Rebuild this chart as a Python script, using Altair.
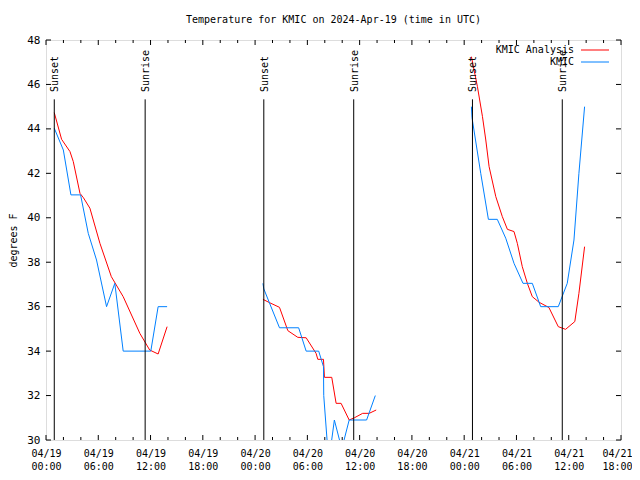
import altair as alt
import pandas as pd

# ---- data (hours after 2024-04-19 00:00 UTC, degrees F) ----
ana_seg = [1]*14 + [2]*18 + [3]*20
ana_hours = [0.95, 1.79, 2.75, 3.13, 3.9, 4.3, 5.04, 6.19, 7.5, 8.86, 10.77, 11.9, 12.87, 13.9,
             24.9, 25.66, 26.8, 27.76, 28.9, 29.86, 31.0, 31.2, 31.85, 31.96, 32.8, 33.3, 33.87, 34.8, 35.4, 36.35, 37.1, 37.9,
             48.83, 49.52, 50.1, 50.48, 50.86, 51.63, 52.38, 52.96, 53.72, 54.1, 54.67, 55.25, 55.82, 56.59, 57.73, 58.8,
             59.64, 60.7, 61.17, 61.82]
ana_temps = [44.73, 43.53, 42.98, 42.53, 41.1, 40.9, 40.43, 38.85, 37.35, 36.45, 34.8, 34.05, 33.87, 35.1,
             36.33, 36.18, 35.97, 34.92, 34.62, 34.6, 33.9, 33.63, 33.63, 32.82, 32.82, 31.65, 31.65, 30.9, 31.0, 31.2, 31.2, 31.35,
             47.25, 45.9, 44.55, 43.5, 42.3, 40.95, 40.05, 39.48, 39.38, 38.85, 37.8, 37.05, 36.45, 36.2, 35.96, 35.1,
             34.98, 35.33, 36.6, 38.7]

obs_seg = [1]*12 + [2]*14 + [3]*15
obs_hours = [0.95, 1.99, 2.86, 3.97, 4.85, 5.8, 6.95, 7.9, 8.86, 12.03, 12.87, 13.9,
             24.9, 25.0, 26.8, 29.0, 29.86, 31.3, 31.85, 31.88, 32.45, 33.1, 33.95, 34.8, 36.8, 37.8,
             48.83, 48.9, 49.9, 50.78, 51.8, 52.77, 53.72, 54.75, 55.82, 56.78, 58.8, 59.83, 60.6, 61.17, 61.82]
obs_temps = [44.03, 43.05, 41.03, 41.03, 39.3, 38.1, 36.0, 37.05, 34.0, 34.0, 36.0, 36.0,
             37.05, 36.8, 35.05, 35.05, 34.0, 34.0, 33.3, 32.0, 29.0, 30.9, 29.6, 30.9, 30.9, 32.0,
             45.0, 44.5, 42.0, 39.93, 39.93, 39.08, 37.95, 37.05, 37.05, 36.0, 36.0, 37.05, 39.0, 42.0, 45.0]

sun_hours = [0.95, 11.38, 25.0, 35.32, 48.95, 59.26]
sun_labels = ["Sunset", "Sunrise", "Sunset", "Sunrise", "Sunset", "Sunrise"]

x_major = list(range(0, 67, 6))
x_minor = [h for h in range(0, 67, 2) if h % 6]
y_major = list(range(30, 49, 2))

W, H = 575, 400
FONT = "DejaVu Sans Mono"

ana = pd.DataFrame({"h": ana_hours, "t": ana_temps, "seg": ana_seg})
obs = pd.DataFrame({"h": obs_hours, "t": obs_temps, "seg": obs_seg})
sun = pd.DataFrame({"h": sun_hours, "label": sun_labels})

xscale = alt.Scale(domain=[0, 66], nice=False, zero=False)
yscale = alt.Scale(domain=[30, 48], nice=False, zero=False)

label_expr = ("['04/' + (19 + floor(datum.value / 24)), "
              "((datum.value % 24) < 10 ? '0' : '') + (datum.value % 24) + ':00']")

base_x = alt.X("h:Q", scale=xscale,
               axis=alt.Axis(values=x_major, labelExpr=label_expr, title=None, ticks=False,
                             domain=False, grid=False, labelFont=FONT, labelFontSize=10,
                             labelColor="black", labelPadding=8, labelLineHeight=13,
                             labelFlush=False, labelOverlap=False, labelBound=False,
                             labelOffset={"condition": {"test": "datum.value == 66", "value": -4},
                                          "value": 0}))
base_y = alt.Y("t:Q", scale=yscale,
               axis=alt.Axis(values=y_major, title="degrees F", ticks=False, domain=False, grid=False,
                             labelFont=FONT, labelFontSize=11, labelColor="black", labelPadding=6,
                             titleFont=FONT, titleFontSize=10, titleFontWeight="normal",
                             titleColor="black", titleX=-33, titleY=200, titleAngle=270,
                             titleAlign="center", titleBaseline="middle"))

ana_line = alt.Chart(ana).mark_line(color="#ff0000", strokeWidth=1, clip=True).encode(
    x=base_x, y=base_y, detail="seg:N", order="h:Q")
obs_line = alt.Chart(obs).mark_line(color="#0080ff", strokeWidth=1, clip=True).encode(
    x=alt.X("h:Q", scale=xscale), y=alt.Y("t:Q", scale=yscale), detail="seg:N", order="h:Q")

sun_rule = alt.Chart(sun).mark_rule(color="black", strokeWidth=1).encode(
    x=alt.X("h:Q", scale=xscale), y=alt.datum(45.33), y2=alt.datum(30))
sun_text = alt.Chart(sun).mark_text(angle=270, align="left", baseline="middle", font=FONT,
                                    fontSize=10, color="black", dy=1).encode(
    x=alt.X("h:Q", scale=xscale), y=alt.datum(45.66), text="label:N")

xmaj = pd.DataFrame({"h": x_major})
xmin = pd.DataFrame({"h": x_minor})
ymaj = pd.DataFrame({"t": y_major})

ticks = [
    alt.Chart(xmaj).mark_rule(color="black").encode(x=alt.X("h:Q", scale=xscale), y=alt.value(H), y2=alt.value(H - 5)),
    alt.Chart(xmaj).mark_rule(color="black").encode(x=alt.X("h:Q", scale=xscale), y=alt.value(0), y2=alt.value(5)),
    alt.Chart(xmin).mark_rule(color="black").encode(x=alt.X("h:Q", scale=xscale), y=alt.value(H), y2=alt.value(H - 3)),
    alt.Chart(xmin).mark_rule(color="black").encode(x=alt.X("h:Q", scale=xscale), y=alt.value(0), y2=alt.value(3)),
    alt.Chart(ymaj).mark_rule(color="black").encode(y=alt.Y("t:Q", scale=yscale), x=alt.value(0), x2=alt.value(5)),
    alt.Chart(ymaj).mark_rule(color="black").encode(y=alt.Y("t:Q", scale=yscale), x=alt.value(W), x2=alt.value(W - 5)),
]

leg_names = ["KMIC Analysis", "KMIC"]
leg_colors = ["#ff0000", "#0080ff"]
legend_layers = []
for i, (nm, col) in enumerate(zip(leg_names, leg_colors)):
    d = pd.DataFrame({"name": [nm]})
    yy = 10 + 12 * i
    legend_layers.append(alt.Chart(d).mark_text(align="right", baseline="middle", font=FONT,
                                                fontSize=10, color="black").encode(
        x=alt.value(528), y=alt.value(yy), text="name:N"))
    legend_layers.append(alt.Chart(d).mark_rule(color=col, strokeWidth=1).encode(
        x=alt.value(535), x2=alt.value(563), y=alt.value(yy)))

chart = alt.layer(ana_line, obs_line, sun_rule, sun_text, *ticks, *legend_layers).properties(
    width=W, height=H,
    title=alt.TitleParams("Temperature for KMIC on 2024-Apr-19 (time in UTC)", font=FONT,
                          fontSize=10, fontWeight="normal", color="black", anchor="middle", offset=9),
    autosize=alt.AutoSizeParams(type="none"),
    padding={"left": 38, "top": 32, "right": 11, "bottom": 32},
).configure_view(stroke="black", strokeWidth=1).configure(background="white")

chart.save("out.html", embed_options={"renderer": "svg", "actions": False})
